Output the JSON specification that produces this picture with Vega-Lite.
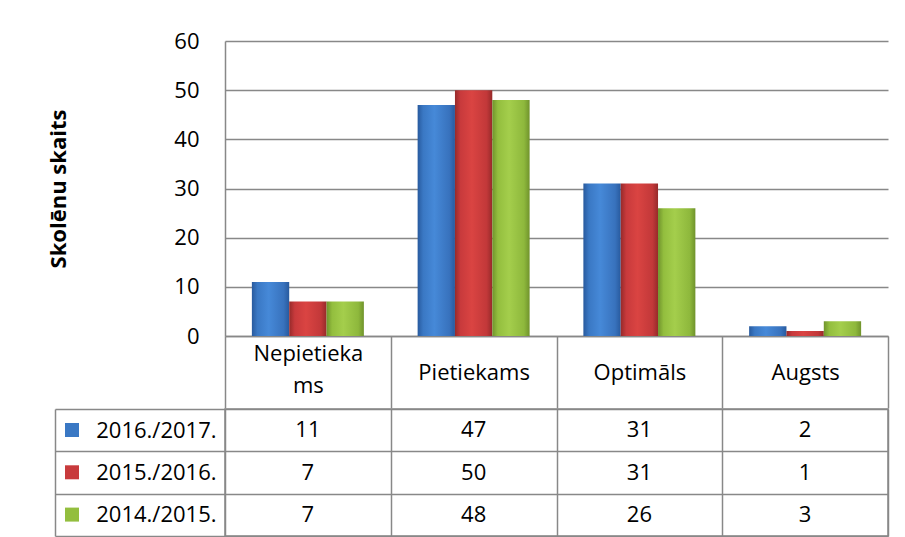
{
  "$schema": "https://vega.github.io/schema/vega-lite/v6.json",
  "background": "white",
  "padding": {"left": 46, "top": 30, "right": 5, "bottom": 0},
  "config": {
    "font": "Open Sans",
    "view": {"stroke": null},
    "axis": {"labelColor": "black", "titleColor": "black", "labelFont": "Open Sans", "titleFont": "Open Sans"}
  },
  "datasets": {
    "d": [
      {"kategorija": "Nepietiekams", "gads": "2016./2017.", "skaits": 11},
      {"kategorija": "Pietiekams", "gads": "2016./2017.", "skaits": 47},
      {"kategorija": "Optimāls", "gads": "2016./2017.", "skaits": 31},
      {"kategorija": "Augsts", "gads": "2016./2017.", "skaits": 2},
      {"kategorija": "Nepietiekams", "gads": "2015./2016.", "skaits": 7},
      {"kategorija": "Pietiekams", "gads": "2015./2016.", "skaits": 50},
      {"kategorija": "Optimāls", "gads": "2015./2016.", "skaits": 31},
      {"kategorija": "Augsts", "gads": "2015./2016.", "skaits": 1},
      {"kategorija": "Nepietiekams", "gads": "2014./2015.", "skaits": 7},
      {"kategorija": "Pietiekams", "gads": "2014./2015.", "skaits": 48},
      {"kategorija": "Optimāls", "gads": "2014./2015.", "skaits": 26},
      {"kategorija": "Augsts", "gads": "2014./2015.", "skaits": 3}
    ]
  },
  "spacing": -13,
  "resolve": {"legend": {"color": "independent"}},
  "vconcat": [
    {
      "width": 663,
      "height": 295,
      "data": {"name": "d"},
      "encoding": {
        "x": {
          "field": "kategorija", "type": "nominal",
          "sort": ["Nepietiekams", "Pietiekams", "Optimāls", "Augsts"],
          "scale": {"paddingInner": 0, "paddingOuter": 0},
          "axis": {
            "title": null, "labelAngle": 0, "grid": false,
            "domain": true, "domainColor": "#888888", "domainWidth": 1.5,
            "ticks": true, "tickBand": "extent", "tickSize": 72, "tickColor": "#888888", "tickWidth": 1.5,
            "labelPadding": {"condition": {"test": "datum.value == 'Nepietiekams'", "value": -55}, "value": -36},
            "labelBaseline": "middle", "labelFontSize": 22, "labelLineHeight": 32,
            "labelExpr": "datum.value == 'Nepietiekams' ? ['Nepietieka', 'ms'] : datum.value"
          }
        },
        "xOffset": {
          "field": "gads",
          "sort": ["2016./2017.", "2015./2016.", "2014./2015."],
          "scale": {"domain": ["2016./2017.", "2015./2016.", "2014./2015."], "paddingInner": 0, "paddingOuter": 0.72}
        },
        "y": {
          "field": "skaits", "type": "quantitative",
          "scale": {"domain": [0, 60]},
          "axis": {
            "values": [0, 10, 20, 30, 40, 50, 60],
            "title": "Skolēnu skaits", "titleFontSize": 22, "titleFontWeight": "bold",
            "titleX": -167, "titleBaseline": "middle",
            "labelFontSize": 22, "labelPadding": 26, "ticks": false,
            "domain": true, "domainColor": "#888888", "domainWidth": 1.5,
            "grid": true, "gridColor": "#888888", "gridWidth": 1.5
          }
        }
      },
      "layer": [
        {
          "transform": [{"filter": "datum.gads == '2016./2017.'"}],
          "mark": {"type": "bar", "color": {"gradient": "linear", "x1": 0, "y1": 0, "x2": 1, "y2": 0,
            "stops": [{"offset": 0, "color": "#285a9e"}, {"offset": 0.15, "color": "#3a78c4"}, {"offset": 0.45, "color": "#4689d8"}, {"offset": 0.85, "color": "#3872bd"}, {"offset": 1, "color": "#285a9e"}]}}
        },
        {
          "transform": [{"filter": "datum.gads == '2015./2016.'"}],
          "mark": {"type": "bar", "color": {"gradient": "linear", "x1": 0, "y1": 0, "x2": 1, "y2": 0,
            "stops": [{"offset": 0, "color": "#962a2a"}, {"offset": 0.15, "color": "#c83a3c"}, {"offset": 0.45, "color": "#da4442"}, {"offset": 0.85, "color": "#c23839"}, {"offset": 1, "color": "#962a2a"}]}}
        },
        {
          "transform": [{"filter": "datum.gads == '2014./2015.'"}],
          "mark": {"type": "bar", "color": {"gradient": "linear", "x1": 0, "y1": 0, "x2": 1, "y2": 0,
            "stops": [{"offset": 0, "color": "#70932c"}, {"offset": 0.15, "color": "#93be3e"}, {"offset": 0.45, "color": "#a4ce4c"}, {"offset": 0.85, "color": "#8eb83c"}, {"offset": 1, "color": "#70932c"}]}}
        }
      ]
    },
    {
      "width": 663,
      "height": 127,
      "data": {"name": "d"},
      "view": {"stroke": "#888888", "strokeWidth": 1.5},
      "encoding": {
        "x": {
          "field": "kategorija", "type": "nominal",
          "sort": ["Nepietiekams", "Pietiekams", "Optimāls", "Augsts"],
          "scale": {"paddingInner": 0, "paddingOuter": 0},
          "axis": {
            "title": null, "labels": false, "ticks": false, "domain": false,
            "grid": true, "tickBand": "extent", "gridColor": "#888888", "gridWidth": 1.5
          }
        },
        "y": {
          "field": "gads", "type": "nominal",
          "sort": ["2016./2017.", "2015./2016.", "2014./2015."],
          "scale": {"paddingInner": 0, "paddingOuter": 0},
          "axis": {
            "title": null, "offset": 170,
            "ticks": true, "tickSize": -170, "tickBand": "extent", "tickColor": "#888888", "tickWidth": 1.5,
            "domain": true, "domainColor": "#888888", "domainWidth": 1.5,
            "grid": true, "gridColor": "#888888", "gridWidth": 1.5,
            "labelPadding": 9, "labelFontSize": 22
          }
        }
      },
      "layer": [
        {
          "mark": {"type": "text", "fontSize": 22, "color": "black"},
          "encoding": {"text": {"field": "skaits", "type": "quantitative"}}
        },
        {
          "mark": {"type": "square", "opacity": 0},
          "encoding": {
            "color": {
              "field": "gads", "type": "nominal",
              "sort": ["2016./2017.", "2015./2016.", "2014./2015."],
              "scale": {"domain": ["2016./2017.", "2015./2016.", "2014./2015."], "range": ["#3A78C4", "#C83A3C", "#93BE3E"]},
              "legend": {
                "orient": "none", "legendX": -160, "legendY": 14, "title": null,
                "symbolType": "square", "symbolSize": 196, "symbolOpacity": 1, "symbolStrokeWidth": 0,
                "labelExpr": "''", "labelFontSize": 1, "rowPadding": 28.3, "padding": 0, "offset": 0
              }
            }
          }
        }
      ]
    }
  ]
}
